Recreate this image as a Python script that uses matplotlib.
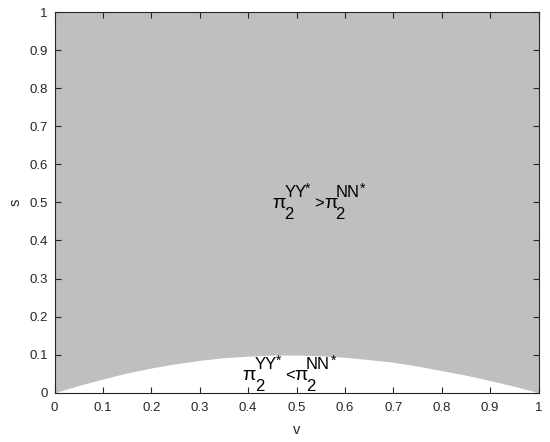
import numpy as np
import matplotlib
matplotlib.use('Agg')
from matplotlib import pyplot as plt
from matplotlib.transforms import offset_copy

# boundary curve
v = [0, 0.05, 0.1, 0.15, 0.2, 0.25, 0.3, 0.35, 0.4, 0.45, 0.5,
     0.55, 0.6, 0.65, 0.7, 0.75, 0.8, 0.85, 0.9, 0.95, 1.0]
s = [0, 0.019, 0.036, 0.052, 0.065, 0.076, 0.085, 0.092, 0.096, 0.099, 0.099,
     0.097, 0.093, 0.087, 0.080, 0.070, 0.058, 0.046, 0.032, 0.017, 0]

ticks = [0, 0.1, 0.2, 0.3, 0.4, 0.5, 0.6, 0.7, 0.8, 0.9, 1]
tick_labels = ['0', '0.1', '0.2', '0.3', '0.4', '0.5', '0.6', '0.7', '0.8', '0.9', '1']

plt.rcParams['font.family'] = ['Liberation Sans', 'DejaVu Sans']

dark = '#262626'
fig = plt.figure(figsize=(5.5, 4.42), dpi=100)
ax = fig.add_axes([0.0991, 0.1115, 0.88, 0.861])

ax.fill_between(v, s, 1, color='#bfbfbf', lw=0)

ax.set_xlim(0, 1)
ax.set_ylim(0, 1)
ax.set_xticks(ticks)
ax.set_xticklabels(tick_labels)
ax.set_yticks(ticks)
ax.set_yticklabels(tick_labels)
ax.tick_params(direction='in', top=True, right=True, length=4, width=0.8,
               colors=dark, labelsize=9.5)
ax.tick_params(axis='x', pad=7)
ax.tick_params(axis='y', pad=5)
for sp in ax.spines.values():
    sp.set_color(dark)
    sp.set_linewidth(0.8)

ax.set_xlabel('v', fontsize=10.5, color=dark, labelpad=6)
ax.set_ylabel('s', fontsize=10.5, color=dark, labelpad=5)


def tex_label(x, y, rel):
    # MATLAB style pi_2^{YY*} rel pi_2^{NN*}, pieces placed by pixel offsets
    pieces = [('\u03c0', 0, 0, 14), ('2', 12, -11, 12), ('YY', 12, 11, 12),
              ('*', 33, 15, 10), (rel, 42, 0, 12), ('\u03c0', 52, 0, 14),
              ('2', 63, -11, 12), ('NN', 63, 11, 12), ('*', 88, 15, 10)]
    for txt, dx, dy, fs in pieces:
        tr = offset_copy(ax.transData, fig=fig, x=dx, y=dy, units='dots')
        ax.text(x, y, txt, transform=tr, fontsize=fs, ha='left',
                va='baseline', color='black')


tex_label(0.45, 0.485, '>')
tex_label(0.389, 0.033, '<')

fig.savefig('out.png', dpi=100)
